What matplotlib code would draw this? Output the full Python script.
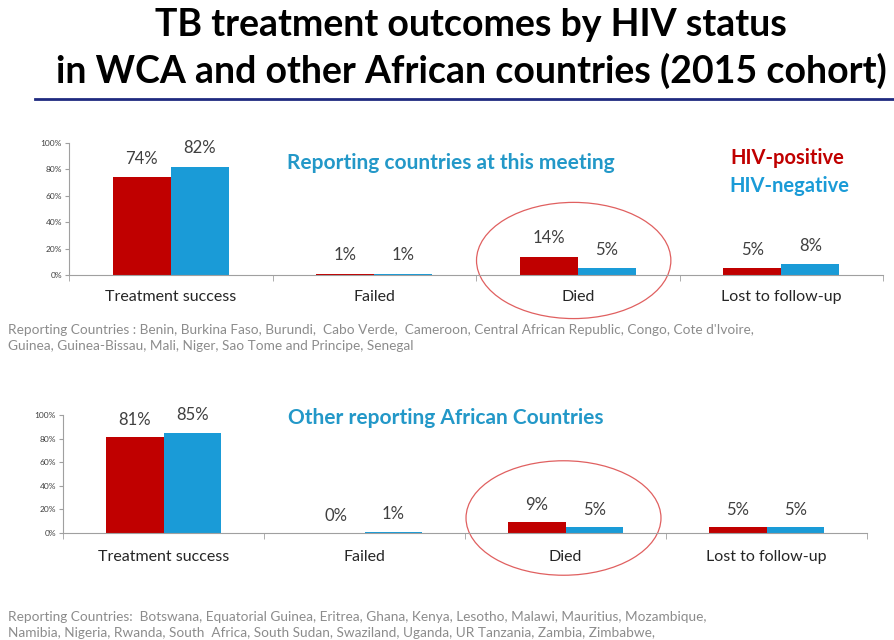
import matplotlib
matplotlib.use("Agg")
import matplotlib.pyplot as plt
from matplotlib.patches import Ellipse
from matplotlib.lines import Line2D
import numpy as np

plt.rcParams['font.family'] = ['Lato', 'DejaVu Sans']

# ---------- data ----------
categories = ["Treatment success", "Failed", "Died", "Lost to follow-up"]
wca_pos = [74, 1, 14, 5]
wca_neg = [82, 1, 5, 8]
other_pos = [81, 0, 9, 5]
other_neg = [85, 1, 5, 5]
yticks = [0, 20, 40, 60, 80, 100]

title_lines = ["TB treatment outcomes by HIV status",
               "in WCA and other African countries (2015 cohort)"]
sub_wca = "Reporting countries at this meeting"
sub_other = "Other reporting African Countries"
note_wca = ["Reporting Countries : Benin, Burkina Faso, Burundi,  Cabo Verde,  Cameroon, Central African Republic, Congo, Cote d'Ivoire,",
            "Guinea, Guinea-Bissau, Mali, Niger, Sao Tome and Principe, Senegal"]
note_other = ["Reporting Countries:  Botswana, Equatorial Guinea, Eritrea, Ghana, Kenya, Lesotho, Malawi, Mauritius, Mozambique,",
              "Namibia, Nigeria, Rwanda, South  Africa, South Sudan, Swaziland, Uganda, UR Tanzania, Zambia, Zimbabwe,"]

RED = "#C00000"
BLUE = "#1A9BD7"
TEAL = "#2398C8"
GREY = "#8C8C8C"

fig = plt.figure(figsize=(8.94, 6.4), dpi=100)


def draw_panel(rect, pos, neg, ell_center, ell_w, ell_h, lab_off, xpad):
    ax = fig.add_axes(rect)
    x = np.arange(len(categories))
    w = 0.285
    ax.bar(x - w / 2, pos, w, color=RED)
    ax.bar(x + w / 2, neg, w, color=BLUE)
    for xs, vals in [(x - w / 2, pos), (x + w / 2, neg)]:
        for xi, v in zip(xs, vals):
            ax.annotate(f"{v}%", (xi, v), xytext=(0, lab_off), textcoords="offset points",
                        ha="center", va="center", fontsize=12, color="#404040")
    ax.set_xlim(-0.5, len(categories) - 0.5)
    ax.set_ylim(0, 100)
    ax.set_yticks(yticks)
    ax.set_yticklabels([f"{t}%" for t in yticks], fontsize=6, color="#404040")
    ax.set_xticks(x)
    ax.set_xticklabels(categories, fontsize=11.5, color="#262626")
    ax.set_xticks(np.arange(len(categories) + 1) - 0.5, minor=True)
    ax.tick_params(axis="x", which="major", length=0, pad=xpad)
    ax.tick_params(axis="x", which="minor", length=4, color="#A0A0A0")
    ax.tick_params(axis="y", length=3, color="#A0A0A0", pad=2)
    for s in ["top", "right"]:
        ax.spines[s].set_visible(False)
    for s in ["left", "bottom"]:
        ax.spines[s].set_color("#A0A0A0")
        ax.spines[s].set_linewidth(0.8)
    ax.add_patch(Ellipse(ell_center, ell_w, ell_h, fill=False,
                         edgecolor="#E06060", linewidth=0.9, clip_on=False))
    return ax


ax1 = draw_panel([0.0772, 0.5703, 0.9105, 0.2063], wca_pos, wca_neg,
                 (1.98, 11), 0.955, 88, 13.5, 11)
ax2 = draw_panel([0.0705, 0.1672, 0.8993, 0.1844], other_pos, other_neg,
                 (1.99, 12.7), 0.97, 97, 12.5, 12.5)

# titles
fig.text(0.527, 1 - 36 / 640, title_lines[0], ha="center", va="baseline",
         fontsize=27, fontweight="bold", color="black")
fig.text(0.527, 1 - 83 / 640, title_lines[1], ha="center", va="baseline",
         fontsize=27, fontweight="bold", color="black")
fig.add_artist(Line2D([35 / 894, 1.0], [1 - 99 / 640] * 2, color="#1F2A80",
                      linewidth=2, transform=fig.transFigure))

fig.text(287 / 894, 1 - 163 / 640, sub_wca, ha="left", va="center",
         fontsize=15, fontweight="bold", color=TEAL)
fig.text(288 / 894, 1 - 418 / 640, sub_other, ha="left", va="center",
         fontsize=15, fontweight="bold", color=TEAL)
fig.text(730 / 894, 1 - 158 / 640, "HIV-positive", ha="left", va="center",
         fontsize=14.5, fontweight="bold", color=RED)
fig.text(729 / 894, 1 - 186 / 640, "HIV-negative", ha="left", va="center",
         fontsize=14.5, fontweight="bold", color=BLUE)

for line, yb in zip(note_wca, [334, 350]):
    fig.text(8 / 894, 1 - yb / 640, line, ha="left", va="baseline",
             fontsize=9.8, color=GREY)
for line, yb in zip(note_other, [621, 637]):
    fig.text(8 / 894, 1 - yb / 640, line, ha="left", va="baseline",
             fontsize=9.8, color=GREY)

fig.savefig("out.png", dpi=100)
